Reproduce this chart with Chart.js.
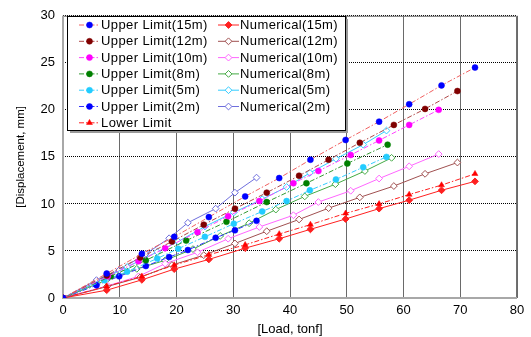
<!DOCTYPE html>
<html>
<head>
<meta charset="utf-8">
<script src="https://cdn.jsdelivr.net/npm/chart.js@4.4.0/dist/chart.umd.min.js"></script>
<style>
  body { margin: 0; background: #fff; }
</style>
</head>
<body>
<canvas id="chart" width="531" height="337"></canvas>
<script>
// load steps (tonf) and displacements (mm)
const load15 = [0, 7.7, 13.9, 19.6, 25.7, 32.1, 38.1, 43.6, 49.8, 55.7, 61.0, 66.7, 72.6];
const upper15 = [0, 2.6, 4.7, 6.5, 8.6, 10.8, 12.75, 14.7, 16.8, 18.75, 20.6, 22.6, 24.5];
const num15 = [0, 0.83, 1.93, 3.07, 4.1, 5.3, 6.3, 7.3, 8.4, 9.5, 10.4, 11.45, 12.4];
const lower = [0, 1.24, 2.3, 3.5, 4.6, 5.65, 6.8, 7.8, 9.0, 10.0, 11.0, 12.0, 13.2];

const load12 = [0, 7.7, 13.6, 19.2, 24.8, 30.3, 35.9, 41.6, 46.8, 52.3, 58.3, 63.8, 69.5];
const upper12 = [0, 2.4, 4.3, 6.0, 7.8, 9.5, 11.2, 13.0, 14.7, 16.5, 18.4, 20.1, 22.0];
const num12 = [0, 1.2, 2.2, 3.5, 4.55, 5.8, 7.1, 8.35, 9.55, 10.7, 11.9, 13.2, 14.4];

const load10 = [0, 7.9, 13.3, 18.0, 23.7, 29.1, 34.6, 40.6, 45.0, 50.7, 55.7, 61.0, 66.2];
const upper10 = [0, 2.3, 3.9, 5.3, 7.0, 8.7, 10.3, 12.2, 13.5, 15.2, 16.75, 18.4, 20.0];
const num10 = [0, 1.3, 2.3, 3.65, 4.86, 6.3, 7.55, 8.8, 10.2, 11.4, 12.7, 14.0, 15.3];

const loadU8 = [0, 8.4, 14.6, 21.7, 28.8, 35.9, 42.9, 50.1, 57.2];
const upper8 = [0, 2.3, 4.0, 6.1, 8.1, 10.2, 12.2, 14.3, 16.3];
const loadN8 = [0, 7.6, 13.0, 18.0, 22.9, 27.7, 32.8, 37.5, 42.6, 48.0, 53.2, 57.9];
const num8 = [0, 1.9, 3.1, 4.0, 5.2, 6.6, 7.95, 9.4, 10.8, 12.1, 13.5, 14.9];

const load5 = [0, 7.3, 11.3, 16.6, 20.3, 25.0, 30.1, 35.1, 39.4, 43.5, 48.1, 52.9, 57.0];
const upper5 = [0, 1.9, 2.8, 4.2, 5.24, 6.5, 7.9, 9.2, 10.3, 11.45, 12.6, 13.9, 15.0];
const num5 = [0, 2.1, 3.3, 4.9, 6.0, 7.6, 9.1, 10.5, 11.8, 13.3, 14.8, 16.3, 17.8];

const load2 = [0, 5.9, 9.9, 14.6, 18.7, 22.0, 26.9, 30.3, 34.1];
const upper2 = [0, 1.35, 2.3, 3.4, 4.35, 5.1, 6.4, 7.2, 8.2];
const num2 = [0, 1.9, 2.95, 4.7, 6.35, 8.0, 9.5, 11.2, 12.8];

const xTicks = [0, 10, 20, 30, 40, 50, 60, 70, 80];
const yTicks = [0, 5, 10, 15, 20, 25, 30];

const pts = (xs, ys) => xs.map((x, i) => ({ x: x, y: ys[i] }));
const DASH = [5, 2, 1.5, 2];
const FONT = '"Liberation Sans", Arial, sans-serif';

function upperSet(label, xs, ys, lineColor, dotColor) {
  return {
    label: label, data: pts(xs, ys),
    borderColor: lineColor, borderWidth: 1, borderDash: DASH,
    pointStyle: 'circle', pointRadius: 3,
    pointBackgroundColor: dotColor, pointBorderColor: dotColor, pointBorderWidth: 0.5
  };
}
function numSet(label, xs, ys, color, filled) {
  return {
    label: label, data: pts(xs, ys),
    borderColor: color, borderWidth: 1,
    pointStyle: 'rectRot', pointRadius: 3.4,
    pointBackgroundColor: filled ? color : '#ffffff', pointBorderColor: color, pointBorderWidth: 1
  };
}

const datasets = [
  upperSet('Upper Limit(15m)', load15, upper15, '#f06060', '#0000ff'),
  upperSet('Upper Limit(12m)', load12, upper12, '#b04848', '#800000'),
  upperSet('Upper Limit(10m)', load10, upper10, '#ff44ff', '#ff00ff'),
  upperSet('Upper Limit(8m)', loadU8, upper8, '#339933', '#008000'),
  upperSet('Upper Limit(5m)', load5, upper5, '#33ccff', '#22ccff'),
  upperSet('Upper Limit(2m)', load2, upper2, '#3333ff', '#0000ff'),
  {
    label: 'Lower Limit', data: pts(load15, lower),
    borderColor: '#ff2020', borderWidth: 1, borderDash: DASH,
    pointStyle: 'triangle', pointRadius: 3.4,
    pointBackgroundColor: '#ff0000', pointBorderColor: '#ff0000', pointBorderWidth: 0.5
  },
  numSet('Numerical(15m)', load15, num15, '#ff2020', true),
  numSet('Numerical(12m)', load12, num12, '#a05050', false),
  numSet('Numerical(10m)', load10, num10, '#ff66ff', false),
  numSet('Numerical(8m)', loadN8, num8, '#44aa44', false),
  numSet('Numerical(5m)', load5, num5, '#33ccff', false),
  numSet('Numerical(2m)', load2, num2, '#6f6fdd', false)
];

// frame round the plot area
const framePlugin = {
  id: 'frame',
  beforeDatasetsDraw(chart) {
    const { ctx, chartArea: a } = chart;
    ctx.save();
    ctx.strokeStyle = '#707070';
    ctx.lineWidth = 1;
    ctx.beginPath();
    ctx.moveTo(a.left, a.top + 0.5);
    ctx.lineTo(a.right - 0.5, a.top + 0.5);
    ctx.lineTo(a.right - 0.5, a.bottom);
    ctx.stroke();
    ctx.strokeStyle = '#a8a8a8';
    ctx.lineWidth = 2;
    ctx.beginPath();
    ctx.moveTo(a.left, a.top);
    ctx.lineTo(a.left, a.bottom);
    ctx.lineTo(a.right, a.bottom);
    ctx.stroke();
    ctx.restore();
  }
};

// two-column legend box inside the plot
const legendBox = {
  id: 'legendBox',
  afterDraw(chart) {
    const ctx = chart.ctx;
    const bx = 67, by = 16, bw = 278, bh = 114;
    ctx.save();
    ctx.fillStyle = '#9a9a9a';
    ctx.fillRect(bx + 3, by + 3, bw, bh);
    ctx.fillStyle = '#ffffff';
    ctx.fillRect(bx, by, bw, bh);
    ctx.strokeStyle = '#000000';
    ctx.lineWidth = 1;
    ctx.strokeRect(bx + 0.5, by + 0.5, bw, bh);

    ctx.font = '13px ' + FONT;
    ctx.letterSpacing = '0.4px';
    ctx.textBaseline = 'middle';
    datasets.forEach((ds, i) => {
      const col = i < 7 ? 0 : 1;
      const row = i < 7 ? i : i - 7;
      const x0 = col === 0 ? 79 : 218;
      const y = 25 + row * 16.3;
      ctx.save();
      ctx.strokeStyle = ds.borderColor;
      ctx.lineWidth = 1;
      ctx.setLineDash(ds.borderDash || []);
      ctx.beginPath();
      ctx.moveTo(x0, y);
      ctx.lineTo(x0 + 21, y);
      ctx.stroke();
      ctx.setLineDash([]);
      ctx.fillStyle = ds.pointBackgroundColor;
      ctx.strokeStyle = ds.pointBorderColor;
      ctx.lineWidth = ds.pointBorderWidth;
      Chart.helpers.drawPoint(ctx, {
        pointStyle: ds.pointStyle, radius: ds.pointRadius, rotation: 0,
        borderWidth: ds.pointBorderWidth
      }, x0 + 10.5, y);
      ctx.restore();
      ctx.fillStyle = '#000';
      ctx.fillText(ds.label, x0 + 22, y + 0.5);
    });
    ctx.restore();
  }
};

new Chart(document.getElementById('chart'), {
  type: 'line',
  data: { datasets: datasets },
  options: {
    responsive: false,
    animation: false,
    devicePixelRatio: 1,
    layout: { padding: { top: 8, right: 14, left: 0, bottom: 0 } },
    plugins: {
      legend: { display: false },
      tooltip: { enabled: false }
    },
    scales: {
      x: {
        type: 'linear', min: 0, max: 80,
        afterBuildTicks: (s) => { s.ticks = xTicks.map(v => ({ value: v })); },
        afterFit: (s) => { s.height = 39; },
        grid: { color: '#6a6a6a', lineWidth: 1, drawTicks: false },
        border: { display: false },
        ticks: { color: '#000', padding: 5, font: { size: 13, family: FONT } },
        title: {
          display: true, text: '[Load, tonf]', color: '#000',
          padding: { top: 2, bottom: 0 },
          font: { size: 13, family: FONT }
        }
      },
      y: {
        type: 'linear', min: 0, max: 30,
        afterBuildTicks: (s) => { s.ticks = yTicks.map(v => ({ value: v })); },
        afterFit: (s) => { s.width = 63; },
        grid: { color: '#000000', lineWidth: 1, drawTicks: false },
        border: { display: false, dash: [1, 1] },
        ticks: { color: '#000', padding: 8, font: { size: 13, family: FONT } },
        title: {
          display: true, text: '[Displacement, mm]', color: '#000',
          padding: { top: 14, bottom: 0 },
          font: { size: 11.5, family: FONT }
        }
      }
    }
  },
  plugins: [framePlugin, legendBox]
});
</script>
</body>
</html>
